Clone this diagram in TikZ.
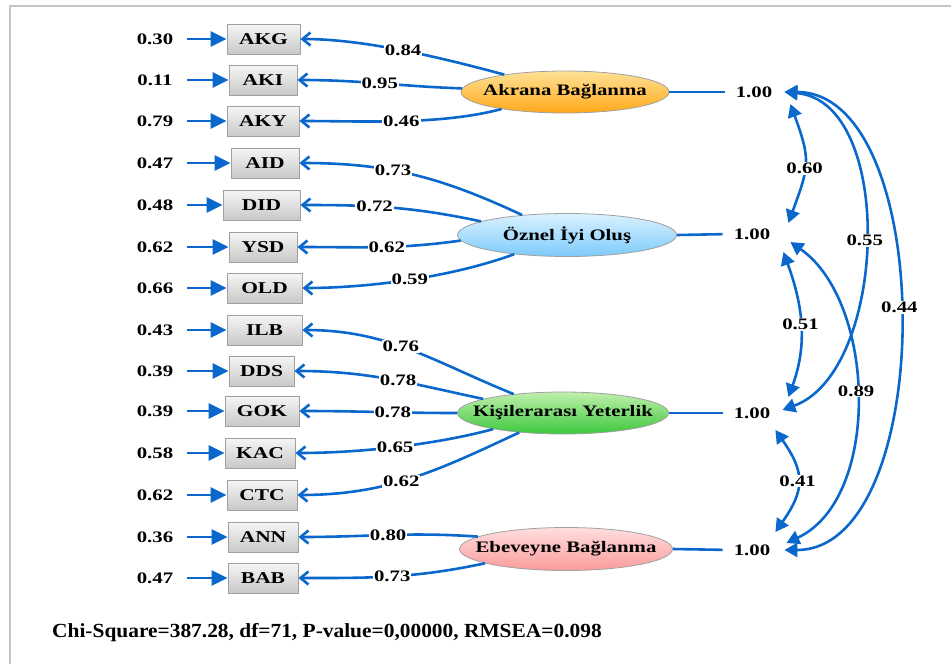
\documentclass[tikz,border=0pt]{standalone}
\usepackage{fontspec}
\setmainfont{Liberation Serif}[FakeStretch=1.3]
\newfontfamily\fitfont{Liberation Serif}[FakeStretch=1.07]
\usetikzlibrary{arrows.meta,shapes.geometric}
\definecolor{lblue}{RGB}{10,104,204}
\definecolor{framegray}{RGB}{198,198,198}
\definecolor{boxtop}{RGB}{246,246,246}
\definecolor{boxbot}{RGB}{200,200,200}
\definecolor{boxline}{RGB}{160,160,160}
\definecolor{ortop}{RGB}{255,226,150}
\definecolor{orbot}{RGB}{255,168,25}
\definecolor{bltop}{RGB}{218,242,255}
\definecolor{blbot}{RGB}{125,202,250}
\definecolor{grtop}{RGB}{192,240,172}
\definecolor{grbot}{RGB}{60,200,60}
\definecolor{pktop}{RGB}{255,222,222}
\definecolor{pkbot}{RGB}{250,155,155}
\begin{document}
\begin{tikzpicture}[x=1pt,y=1pt,
  numf/.style={font=\fontsize{16}{18}\selectfont\bfseries},
  obs/.style={draw=boxline, line width=0.8pt, top color=boxtop, bottom color=boxbot,
    minimum height=30pt, inner sep=0pt, font=\fontsize{16.5}{18}\selectfont\bfseries},
  lat/.style={ellipse, draw=boxline, line width=0.8pt, inner sep=0pt,
    font=\fontsize{16}{18}\selectfont\bfseries},
  num/.style={numf, inner sep=2pt},
  lab/.style={numf, fill=white, inner sep=1pt},
  errarr/.style={draw=lblue, line width=2.8pt, shorten <=12pt, -{Triangle[length=16pt,width=15pt]}},
  load/.style={draw=lblue, line width=2.6pt, -{Straight Barb[length=8pt,width=13pt]}},
  plain/.style={draw=lblue, line width=2.6pt, shorten >=9pt},
  cov/.style={draw=lblue, line width=2.6pt, {Triangle[length=13pt,width=14pt]}-{Triangle[length=13pt,width=14pt]}},
]
\useasboundingbox (0,0) rectangle (951,-664);
\draw[framegray, line width=2pt] (10,-664) -- (10,-6) -- (951,-6);

% observed variables
\node[obs, minimum width=73pt] (akg) at (263.5,-39) {AKG};
\node[obs, minimum width=68pt] (aki) at (263,-80) {AKI};
\node[obs, minimum width=72pt] (aky) at (263,-121) {AKY};
\node[obs, minimum width=68pt] (aid) at (265,-163) {AID};
\node[obs, minimum width=77pt] (did) at (261.5,-205) {DID};
\node[obs, minimum width=68pt] (ysd) at (263,-247) {YSD};
\node[obs, minimum width=75pt] (old) at (264.5,-288) {OLD};
\node[obs, minimum width=75pt] (ilb) at (264.5,-330) {ILB};
\node[obs, minimum width=65pt] (dds) at (261.5,-371) {DDS};
\node[obs, minimum width=74pt] (gok) at (262,-411) {GOK};
\node[obs, minimum width=70pt] (kac) at (260,-453) {KAC};
\node[obs, minimum width=70pt] (ctc) at (262,-495) {CTC};
\node[obs, minimum width=70pt] (ann) at (263,-537) {ANN};
\node[obs, minimum width=70pt] (bab) at (263,-578) {BAB};

% error terms
\node[num] (e1) at (155,-39) {0.30};
\node[num] (e2) at (155,-80) {0.11};
\node[num] (e3) at (155,-121) {0.79};
\node[num] (e4) at (155,-163) {0.47};
\node[num] (e5) at (155,-205) {0.48};
\node[num] (e6) at (155,-247) {0.62};
\node[num] (e7) at (155,-288) {0.66};
\node[num] (e8) at (155,-330) {0.43};
\node[num] (e9) at (155,-371) {0.39};
\node[num] (e10) at (155,-411) {0.39};
\node[num] (e11) at (155,-453) {0.58};
\node[num] (e12) at (155,-495) {0.62};
\node[num] (e13) at (155,-537) {0.36};
\node[num] (e14) at (155,-578) {0.47};
\draw[errarr] (e1) -- (akg);
\draw[errarr] (e2) -- (aki);
\draw[errarr] (e3) -- (aky);
\draw[errarr] (e4) -- (aid);
\draw[errarr] (e5) -- (did);
\draw[errarr] (e6) -- (ysd);
\draw[errarr] (e7) -- (old);
\draw[errarr] (e8) -- (ilb);
\draw[errarr] (e9) -- (dds);
\draw[errarr] (e10) -- (gok);
\draw[errarr] (e11) -- (kac);
\draw[errarr] (e12) -- (ctc);
\draw[errarr] (e13) -- (ann);
\draw[errarr] (e14) -- (bab);

% latent variables
\node[lat, minimum width=208pt, minimum height=42pt, top color=ortop, bottom color=orbot] (akr) at (565,-92) {\makebox[0pt]{Akrana Bağlanma}};
\node[lat, minimum width=219pt, minimum height=43pt, top color=bltop, bottom color=blbot] (ozn) at (567,-235) {\makebox[0pt]{Öznel İyi Oluş}};
\node[lat, minimum width=211pt, minimum height=42pt, top color=grtop, bottom color=grbot] (kis) at (563,-413) {\makebox[0pt]{Kişilerarası Yeterlik}};
\node[lat, minimum width=213pt, minimum height=43pt, top color=pktop, bottom color=pkbot] (ebe) at (566,-549) {\makebox[0pt]{Ebeveyne Bağlanma}};

% loadings
\draw[load] (akr.164) to[out=165,in=0,looseness=0.8] node[lab,pos=0.5]{0.84} (akg.east);
\draw[load] (akr.178) to[out=178,in=0] node[lab,pos=0.5]{0.95} (aki.east);
\draw[load] (akr.195) to[out=195,in=0,looseness=0.8] node[lab,pos=0.5]{0.46} (aky.east);

\draw[load] (ozn.156) to[out=155,in=0] node[lab,pos=0.6]{0.73} (aid.east);
\draw[load] (ozn.171) to[out=168,in=0] node[lab,pos=0.6]{0.72} (did.east);
\draw[load] (ozn.183) to[out=188,in=0] node[lab,pos=0.45]{0.62} (ysd.east);
\draw[load] (ozn.200) to[out=200,in=0,looseness=0.8] node[lab,pos=0.5]{0.59} (old.east);

\draw[load] (kis.159) to[out=158,in=0] node[lab,pos=0.55]{0.76} (ilb.east);
\draw[load] (kis.170) to[out=168,in=0] node[lab,pos=0.45]{0.78} (dds.east);
\draw[load] (kis.180) to[out=180,in=0] node[lab,pos=0.4]{0.78} (gok.east);
\draw[load] (kis.193) to[out=195,in=0,looseness=0.8] node[lab,pos=0.5]{0.65} (kac.east);
\draw[load] (kis.204) to[out=205,in=0] node[lab,pos=0.55]{0.62} (ctc.east);

\draw[load] (ebe.172) to[out=176,in=0] node[lab,pos=0.5]{0.80} (ann.east);
\draw[load] (ebe.190) to[out=192,in=0] node[lab,pos=0.5]{0.73} (bab.east);

% variances
\node[num] (v1) at (754,-92) {1.00};
\node[num] (v2) at (752,-234) {1.00};
\node[num] (v3) at (752,-413) {1.00};
\node[num] (v4) at (752,-550) {1.00};
\draw[plain] (akr.east) -- (v1.west);
\draw[plain] (ozn.east) -- (v2.west);
\draw[plain] (kis.east) -- (v3.west);
\draw[plain] (ebe.east) -- (v4.west);

% covariances
\draw[cov] ([shift={(16,-12)}]v1.east) to[out=-70,in=70,looseness=1.3] node[lab,pos=0.55]{0.60} ([shift={(16,11)}]v2.east);
\draw[cov] ([shift={(11,-18)}]v2.east) to[out=-70,in=70] node[lab,pos=0.5]{0.51} ([shift={(16,16)}]v3.east);
\draw[cov] ([shift={(3,-17)}]v3.east) to[out=-55,in=55,looseness=1.3] node[lab,pos=0.5]{0.41} ([shift={(3,18)}]v4.east);
\draw[cov] ([xshift=10pt]v1.east) to[out=-5,in=20,looseness=0.9] node[lab,pos=0.5]{0.55} ([shift={(10,3)}]v3.east);
\draw[cov] ([shift={(18,-8)}]v2.east) to[out=-35,in=25,looseness=0.89] node[lab,pos=0.48]{0.89} ([shift={(14,7)}]v4.east);
\draw[cov] ([xshift=10pt]v1.east) to[out=0,in=0,looseness=0.86] node[lab,pos=0.48]{0.44} ([xshift=12pt]v4.east);

% fit statistics
\node[anchor=west, inner sep=0pt, font=\fitfont\fontsize{20}{22}\selectfont\bfseries] (fit) at (52,-633) {Chi-Square=387.28, df=71, P-value=0,00000, RMSEA=0.098};
\end{tikzpicture}
\end{document}
